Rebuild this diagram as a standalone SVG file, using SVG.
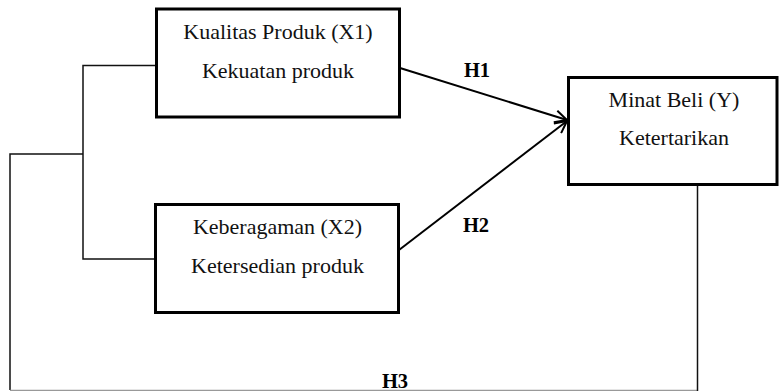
<svg xmlns="http://www.w3.org/2000/svg" width="780" height="391" viewBox="0 0 780 391">
<style>
.box{fill:#fff;stroke:#000;stroke-width:3}
.t{font-family:"Liberation Serif","Times New Roman",serif;font-size:22px;fill:#111;text-anchor:middle}
.h{font-family:"Liberation Serif","Times New Roman",serif;font-size:20.5px;font-weight:bold;fill:#000;text-anchor:middle}
.c{fill:none;stroke:#111;stroke-width:1.5}
.a{fill:none;stroke:#000;stroke-width:2}
</style>
<defs>
<marker id="arr" viewBox="0 0 14 14" refX="13" refY="7" markerWidth="14" markerHeight="14" markerUnits="userSpaceOnUse" orient="auto">
<path d="M1,1 L13,7 L1,13" fill="none" stroke="#000" stroke-width="2"/>
</marker>
</defs>
<g id="connectors">
<polyline class="c" points="156,65.5 83,65.5 83,259 155,259"/>
<polyline class="c" points="83,154 10,154 10,390"/>
<line x1="10" y1="390.5" x2="697" y2="390.5" stroke="#999" stroke-width="1.5"/>
<line class="c" x1="697.5" y1="185" x2="697.5" y2="391"/>
<line class="a" x1="400" y1="68" x2="567" y2="120" marker-end="url(#arr)"/>
<line class="a" x1="399" y1="250" x2="567" y2="121" marker-end="url(#arr)"/>
<text class="h" x="477" y="77">H1</text>
<text class="h" x="476" y="232">H2</text>
<text class="h" x="395" y="388">H3</text>
</g>
<g id="x1">
<rect class="box" x="156.5" y="9" width="243" height="108"/>
<text class="t" x="278" y="39">Kualitas Produk (X1)</text>
<text class="t" x="278" y="78">Kekuatan produk</text>
</g>
<g id="x2">
<rect class="box" x="155.5" y="204.5" width="243" height="108"/>
<text class="t" x="277.5" y="234">Keberagaman (X2)</text>
<text class="t" x="277.5" y="273">Ketersedian produk</text>
</g>
<g id="y">
<rect class="box" x="568.5" y="77.5" width="208.5" height="107"/>
<text class="t" x="674" y="107">Minat Beli (Y)</text>
<text class="t" x="674" y="145">Ketertarikan</text>
</g>
</svg>
